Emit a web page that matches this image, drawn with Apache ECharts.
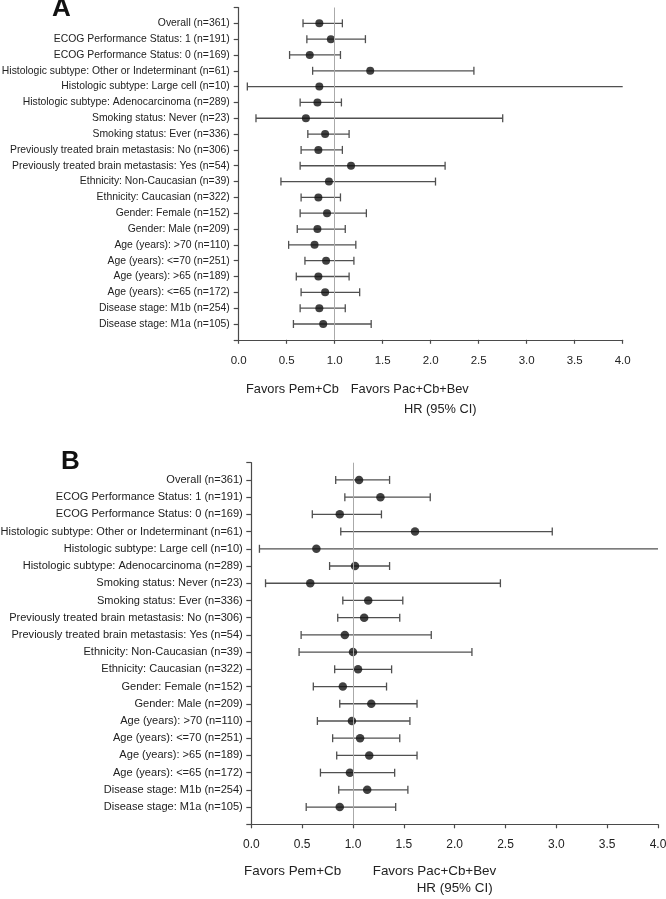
<!DOCTYPE html>
<html>
<head>
<meta charset="utf-8">
<script src="https://cdn.jsdelivr.net/npm/echarts@6/dist/echarts.min.js"></script>
<style>
  html, body { margin: 0; padding: 0; background: #fff; }
  #chart { width: 666px; height: 899px; }
</style>
</head>
<body>
<div id="chart"></div>
<script>
const categories = [
  'Overall (n=361)',
  'ECOG Performance Status: 1 (n=191)',
  'ECOG Performance Status: 0 (n=169)',
  'Histologic subtype: Other or Indeterminant (n=61)',
  'Histologic subtype: Large cell (n=10)',
  'Histologic subtype: Adenocarcinoma (n=289)',
  'Smoking status: Never (n=23)',
  'Smoking status: Ever (n=336)',
  'Previously treated brain metastasis: No (n=306)',
  'Previously treated brain metastasis: Yes (n=54)',
  'Ethnicity: Non-Caucasian (n=39)',
  'Ethnicity: Caucasian (n=322)',
  'Gender: Female (n=152)',
  'Gender: Male (n=209)',
  'Age (years): >70 (n=110)',
  'Age (years): <=70 (n=251)',
  'Age (years): >65 (n=189)',
  'Age (years): <=65 (n=172)',
  'Disease stage: M1b (n=254)',
  'Disease stage: M1a (n=105)'
];

// Panel A
const hrA = [0.84, 0.96, 0.74, 1.37, 0.84, 0.82, 0.70, 0.90, 0.83, 1.17, 0.94, 0.83, 0.92, 0.82, 0.79, 0.91, 0.83, 0.90, 0.84, 0.88];
const loA = [0.67, 0.71, 0.53, 0.77, 0.09, 0.64, 0.18, 0.72, 0.65, 0.64, 0.44, 0.65, 0.64, 0.61, 0.52, 0.69, 0.60, 0.65, 0.64, 0.57];
const hiA = [1.08, 1.32, 1.06, 2.45, 4.50, 1.07, 2.75, 1.15, 1.08, 2.15, 2.05, 1.06, 1.33, 1.11, 1.22, 1.20, 1.15, 1.26, 1.11, 1.38];

// Panel B
const hrB = [1.06, 1.27, 0.87, 1.61, 0.64, 1.02, 0.58, 1.15, 1.11, 0.92, 1.00, 1.05, 0.90, 1.18, 0.99, 1.07, 1.16, 0.97, 1.14, 0.87];
const loB = [0.83, 0.92, 0.60, 0.88, 0.08, 0.77, 0.14, 0.90, 0.85, 0.49, 0.47, 0.82, 0.61, 0.87, 0.65, 0.80, 0.84, 0.68, 0.86, 0.54];
const hiB = [1.36, 1.76, 1.28, 2.96, 4.50, 1.36, 2.45, 1.49, 1.46, 1.77, 2.17, 1.38, 1.33, 1.63, 1.56, 1.46, 1.63, 1.41, 1.54, 1.42];

const xTicks = ['0.0', '0.5', '1.0', '1.5', '2.0', '2.5', '3.0', '3.5', '4.0'];
const xMin = 0, xMax = 4, xStep = 0.5;

const FONT = 'Liberation Sans, Arial, sans-serif';
const AXIS_COLOR = '#4a4a4a';
const BAR_COLOR = '#505050';

function errorBarRender(capHalf) {
  return function (params, api) {
    const lo = api.value(0), hi = api.value(1), y = api.value(2);
    const p1 = api.coord([lo, y]);
    const hiClamped = Math.min(hi, xMax);
    const p2 = api.coord([hiClamped, y]);
    const style = { stroke: BAR_COLOR, lineWidth: 1.3 };
    const children = [
      { type: 'line', shape: { x1: p1[0], y1: p1[1], x2: p2[0], y2: p2[1] }, style }
    ];
    if (lo >= xMin) children.push({ type: 'line', shape: { x1: p1[0], y1: p1[1] - capHalf, x2: p1[0], y2: p1[1] + capHalf }, style });
    if (hi <= xMax) children.push({ type: 'line', shape: { x1: p2[0], y1: p2[1] - capHalf, x2: p2[0], y2: p2[1] + capHalf }, style });
    return { type: 'group', children };
  };
}

function makeX(gridIndex, fontSize, margin) {
  return {
    type: 'value', gridIndex, min: xMin, max: xMax, interval: xStep,
    axisLine: { show: true, onZero: false, lineStyle: { color: AXIS_COLOR, width: 1.2 } },
    axisTick: { show: true, length: 4, lineStyle: { color: AXIS_COLOR, width: 1.2 } },
    splitLine: { show: false },
    axisLabel: {
      margin, fontSize, fontFamily: FONT, color: '#222',
      formatter: v => xTicks[Math.round((v - xMin) / xStep)] || '',
      showMinLabel: true, showMaxLabel: true
    }
  };
}

function makeY(gridIndex, fontSize, margin) {
  return {
    type: 'value', gridIndex, min: 0, max: categories.length + 1, interval: 1, inverse: true,
    axisLine: { show: true, onZero: false, lineStyle: { color: AXIS_COLOR, width: 1.2 } },
    axisTick: { show: true, length: 5, lineStyle: { color: AXIS_COLOR, width: 1.2 } },
    splitLine: { show: false },
    axisLabel: {
      margin, fontSize, fontFamily: FONT, color: '#222',
      formatter: v => categories[v - 1] || ''
    }
  };
}

function seriesFor(idx, lo, hi, hr, capHalf, dot) {
  return [
    {
      type: 'custom', xAxisIndex: idx, yAxisIndex: idx, z: 2,
      renderItem: errorBarRender(capHalf),
      encode: { x: [0, 1], y: 2 },
      data: categories.map((c, i) => [lo[i], hi[i], i + 1]),
      markLine: {
        silent: true, symbol: 'none', label: { show: false },
        lineStyle: { color: '#aaa', width: 1, type: 'solid' },
        data: [{ xAxis: 1 }]
      }
    },
    {
      type: 'scatter', xAxisIndex: idx, yAxisIndex: idx, z: 3,
      symbol: 'circle', symbolSize: dot,
      itemStyle: { color: '#111' },
      data: categories.map((c, i) => [hr[i], i + 1])
    }
  ];
}

const chart = echarts.init(document.getElementById('chart'), null, { renderer: 'canvas' });
chart.setOption({
  animation: false,
  backgroundColor: '#fff',
  grid: [
    { left: 238.7, top: 7.5, width: 384, height: 332.3, containLabel: false, outerBoundsMode: 'none' },
    { left: 251.3, top: 462.7, width: 406.7, height: 361.6, containLabel: false, outerBoundsMode: 'none' }
  ],
  xAxis: [makeX(0, 11.5, 15), makeX(1, 12, 14)],
  yAxis: [makeY(0, 10.4, 9), makeY(1, 11.05, 8.5)],
  series: [
    ...seriesFor(0, loA, hiA, hrA, 4, 8),
    ...seriesFor(1, loB, hiB, hrB, 4, 8.5)
  ],
  graphic: [
    { type: 'text', x: 52, y: 9, style: { text: 'A', font: 'bold 26px ' + FONT, fill: '#111', verticalAlign: 'middle' } },
    { type: 'text', x: 61, y: 462, style: { text: 'B', font: 'bold 26px ' + FONT, fill: '#111', verticalAlign: 'middle' } },
    { type: 'text', x: 246, y: 389, style: { text: 'Favors Pem+Cb', font: '12.8px ' + FONT, fill: '#222', verticalAlign: 'middle' } },
    { type: 'text', x: 350.7, y: 389, style: { text: 'Favors Pac+Cb+Bev', font: '12.8px ' + FONT, fill: '#222', verticalAlign: 'middle' } },
    { type: 'text', x: 404, y: 409, style: { text: 'HR (95% CI)', font: '12.8px ' + FONT, fill: '#222', verticalAlign: 'middle' } },
    { type: 'text', x: 244, y: 871, style: { text: 'Favors Pem+Cb', font: '13.4px ' + FONT, fill: '#222', verticalAlign: 'middle' } },
    { type: 'text', x: 372.7, y: 871, style: { text: 'Favors Pac+Cb+Bev', font: '13.4px ' + FONT, fill: '#222', verticalAlign: 'middle' } },
    { type: 'text', x: 416.7, y: 888, style: { text: 'HR (95% CI)', font: '13.4px ' + FONT, fill: '#222', verticalAlign: 'middle' } }
  ]
});
</script>
</body>
</html>
